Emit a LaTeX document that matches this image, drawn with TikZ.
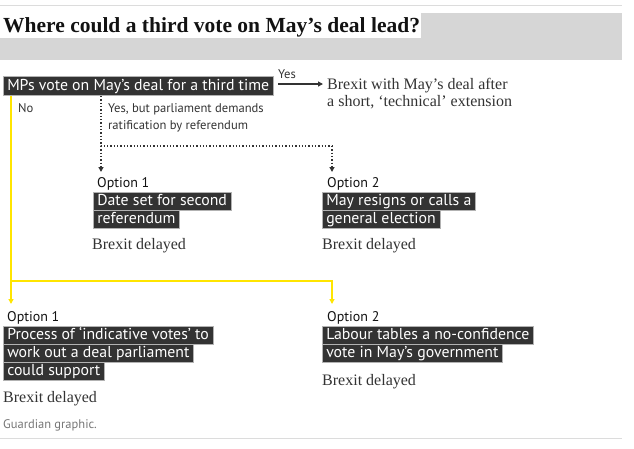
\documentclass[tikz,border=0pt]{standalone}
\usepackage{fontspec}
\setmainfont{Liberation Serif}
\newfontfamily\gsans{PT Sans}
\usetikzlibrary{arrows.meta,calc}
\definecolor{dark}{HTML}{333333}
\definecolor{ink}{HTML}{121212}
\definecolor{band}{HTML}{D6D6D6}
\definecolor{rule}{HTML}{DCDCDC}
\definecolor{yel}{HTML}{FFE500}
\definecolor{note}{HTML}{767676}
\tikzset{
  darkbox/.style={fill=dark, draw=gray!60, line width=0.5pt, text=white,
    font=\gsans\fontsize{15.8}{18}\selectfont, inner xsep=4pt, inner ysep=0pt,
    text height=13.5pt, text depth=4.5pt, anchor=north west},
  optlabel/.style={anchor=base west, inner sep=0pt, text=ink,
    font=\gsans\fontsize{14}{16}\selectfont},
  result/.style={anchor=base west, inner sep=0pt, text=dark,
    font=\fontsize{16}{19}\selectfont},
  small/.style={anchor=base west, inner sep=0pt, text=dark,
    font=\gsans\fontsize{12.6}{14}\selectfont},
  yline/.style={draw=yel, line width=2pt},
  dline/.style={draw=dark, line width=1.3pt, dotted},
  tip/.style={-{Triangle[length=5pt,width=5pt]}},
}
\begin{document}
\begin{tikzpicture}[x=1pt,y=-1pt]
\useasboundingbox (0,0) rectangle (634,448);
% header
\draw[rule, line width=1pt] (0,5) -- (622,5);
\fill[band] (0,13) rectangle (622,60);
\fill[white] (0,13) rectangle (421,38);
\node[anchor=base west, inner sep=0pt, text=ink,
  font=\fontsize{21.5}{24}\selectfont\bfseries] (title) at (3,32) {Where could a third vote on May’s deal lead?};
% main question
\node[darkbox, font=\gsans\fontsize{15.8}{18}\selectfont, text height=14pt, text depth=5pt] (mps) at (3,76) {MPs vote on May’s deal for a third time};
\node[small] (yes) at (278,78) {Yes};
\node[result] (deal1) at (327,89) {Brexit with May’s deal after};
\node[result] (deal2) at (327,106) {a short, ‘technical’ extension};
\coordinate (yesstart) at (278,84);
\draw[draw=dark, line width=1.2pt, tip] (yesstart) -- ($(deal1.west |- yesstart)+(-4,0)$);
\node[small] (no) at (18,112) {No};
\node[small] (ref1) at (108,112) {Yes, but parliament demands};
\node[small] (ref2) at (108,129) {ratification by referendum};
% upper options
\node[optlabel] (oa) at (97,187) {Option 1};
\node[darkbox] (oa1) at (93,192) {Date set for second};
\node[darkbox] (oa2) at (93,210) {referendum};
\node[result] (ra) at (92,249) {Brexit delayed};
\node[optlabel] (ob) at (327,187) {Option 2};
\node[darkbox] (ob1) at (322,192) {May resigns or calls a};
\node[darkbox] (ob2) at (322,210) {general election};
\node[result] (rb) at (322,249) {Brexit delayed};
% lower options
\node[optlabel] (oc) at (7,321) {Option 1};
\node[darkbox] (oc1) at (3,326) {Process of ‘indicative votes’ to};
\node[darkbox] (oc2) at (3,344) {work out a deal parliament};
\node[darkbox] (oc3) at (3,362) {could support};
\node[result] (rc) at (3,402) {Brexit delayed};
\node[optlabel] (od) at (327,321) {Option 2};
\node[darkbox] (od1) at (322,326) {Labour tables a no-confidence};
\node[darkbox] (od2) at (322,344) {vote in May’s government};
\node[result] (rd) at (322,385) {Brexit delayed};
\node[anchor=base west, inner sep=0pt, text=note,
  font=\gsans\fontsize{12.5}{14}\selectfont] (src) at (3,428) {Guardian graphic.};
\draw[rule, line width=1pt] (0,438) -- (622,438);
% dotted branch
\coordinate (ds) at (101,96);
\coordinate (dj) at (101,146);
\coordinate (dk) at (332,146);
\draw[dline] (ds) -- (dj) -- (dk);
\draw[dline, tip] (dj) -- (101,172);
\draw[dline, tip] (dk) -- (332,172);
% yellow branch
\coordinate (ys) at (11,96);
\coordinate (yj) at (11,281);
\coordinate (yk) at (332,281);
\draw[yline, tip] (ys) -- (11,304);
\draw[yline, tip] (yj) -- (yk) -- (332,304);
\end{tikzpicture}
\end{document}
